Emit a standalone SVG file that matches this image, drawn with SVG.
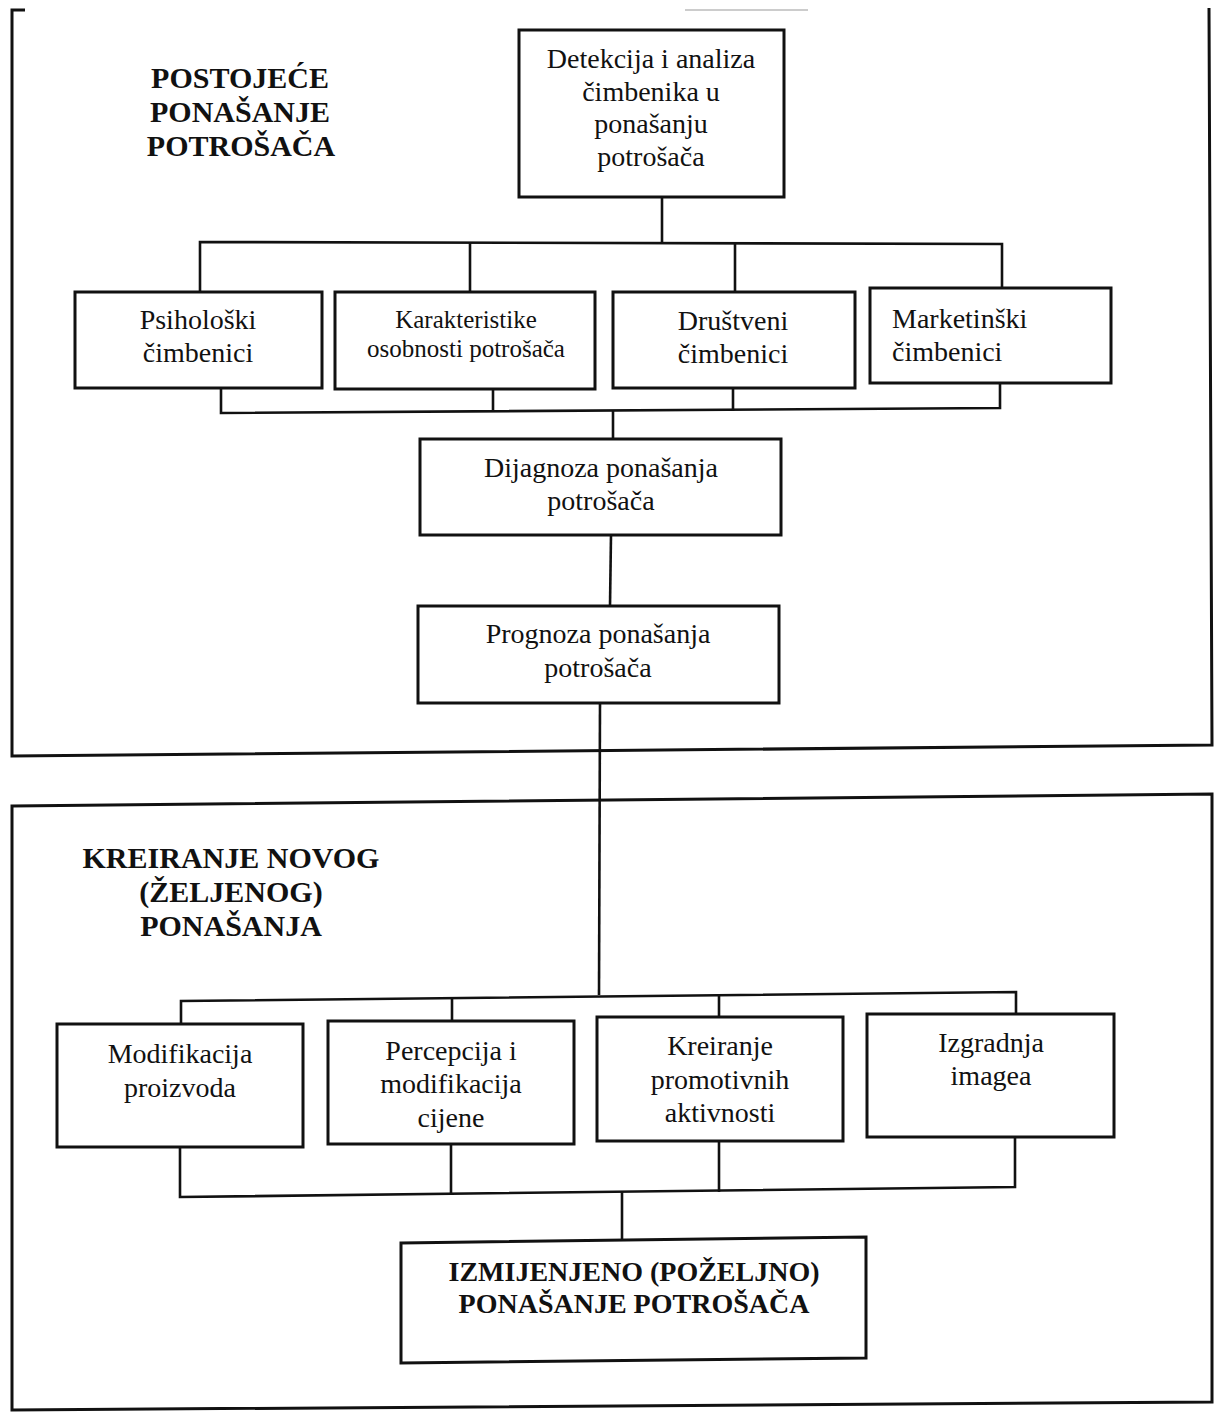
<svg xmlns="http://www.w3.org/2000/svg" width="1215" height="1412" viewBox="0 0 1215 1412">
<style>
  .box { fill: #ffffff; stroke: #111; stroke-width: 3; }
  .panel { fill: none; stroke: #111; stroke-width: 3; stroke-linejoin: miter; }
  .conn line, .conn path { stroke: #111; stroke-width: 2.6; fill: none; }
  text { font-family: "Liberation Serif", "Times New Roman", serif; fill: #111; text-anchor: middle; }
  text.left { text-anchor: start; }
  .lbl { font-size: 28px; }
  .small { font-size: 25px; }
  .title { font-size: 30px; font-weight: bold; }
  .final { font-size: 28px; font-weight: bold; }
</style>
<rect x="0" y="0" width="1215" height="1412" fill="#ffffff"/>

<g id="panels">
  <path class="panel" d="M25,10 L12,10 L12,756 L1212,745 L1209,8"/>
  <line x1="685" y1="10" x2="808" y2="10" stroke="#bbbbbb" stroke-width="1.5"/>
  <path class="panel" d="M12,806 L1212,794 L1212,1402 L12,1410 Z"/>
</g>

<g id="titles">
  <text class="title" x="240" y="88">POSTOJEĆE</text>
  <text class="title" x="240" y="122">PONAŠANJE</text>
  <text class="title" x="241" y="156">POTROŠAČA</text>
  <text class="title" x="231" y="868">KREIRANJE NOVOG</text>
  <text class="title" x="231" y="902">(ŽELJENOG)</text>
  <text class="title" x="231" y="936">PONAŠANJA</text>
</g>

<g id="connectors" class="conn">
  <line x1="662" y1="197" x2="662" y2="243"/>
  <path d="M200,292 L200,242 L1002,244 L1002,289"/>
  <line x1="470" y1="242" x2="470" y2="292"/>
  <line x1="735" y1="243" x2="735" y2="292"/>
  <path d="M221,388 L221,413 L1000,408 L1000,384"/>
  <line x1="493" y1="390" x2="493" y2="412"/>
  <line x1="733" y1="388" x2="733" y2="411"/>
  <line x1="613" y1="411" x2="613" y2="439"/>
  <line x1="611" y1="535" x2="610" y2="606"/>
  <line x1="600" y1="703" x2="599" y2="995"/>
  <path d="M181,1024 L181,1001 L1016,992 L1016,1014"/>
  <line x1="452" y1="998" x2="452" y2="1021"/>
  <line x1="719" y1="995" x2="719" y2="1017"/>
  <path d="M180,1147 L180,1197 L1015,1187 L1015,1137"/>
  <line x1="451" y1="1144" x2="451" y2="1195"/>
  <line x1="719" y1="1141" x2="719" y2="1192"/>
  <line x1="622" y1="1192" x2="622" y2="1240"/>
</g>

<g id="n_detekcija">
  <rect class="box" x="519" y="30" width="265" height="167"/>
  <text class="lbl" x="651" y="68">Detekcija i analiza</text>
  <text class="lbl" x="651" y="101">čimbenika u</text>
  <text class="lbl" x="651" y="133">ponašanju</text>
  <text class="lbl" x="651" y="166">potrošača</text>
</g>

<g id="n_psiholoski">
  <rect class="box" x="75" y="292" width="247" height="96"/>
  <text class="lbl" x="198" y="329">Psihološki</text>
  <text class="lbl" x="198" y="362">čimbenici</text>
</g>

<g id="n_karakteristike">
  <rect class="box" x="335" y="292" width="260" height="97"/>
  <text class="small" x="466" y="328">Karakteristike</text>
  <text class="small" x="466" y="357">osobnosti potrošača</text>
</g>

<g id="n_drustveni">
  <rect class="box" x="613" y="292" width="242" height="96"/>
  <text class="lbl" x="733" y="330">Društveni</text>
  <text class="lbl" x="733" y="363">čimbenici</text>
</g>

<g id="n_marketinski">
  <rect class="box" x="870" y="288" width="241" height="95"/>
  <text class="lbl left" x="892" y="328">Marketinški</text>
  <text class="lbl left" x="892" y="361">čimbenici</text>
</g>

<g id="n_dijagnoza">
  <rect class="box" x="420" y="439" width="361" height="96"/>
  <text class="lbl" x="601" y="477">Dijagnoza ponašanja</text>
  <text class="lbl" x="601" y="510">potrošača</text>
</g>

<g id="n_prognoza">
  <rect class="box" x="418" y="606" width="361" height="97"/>
  <text class="lbl" x="598" y="643">Prognoza ponašanja</text>
  <text class="lbl" x="598" y="677">potrošača</text>
</g>

<g id="n_modifikacija">
  <rect class="box" x="57" y="1024" width="246" height="123"/>
  <text class="lbl" x="180" y="1063">Modifikacija</text>
  <text class="lbl" x="180" y="1097">proizvoda</text>
</g>

<g id="n_percepcija">
  <rect class="box" x="328" y="1021" width="246" height="123"/>
  <text class="lbl" x="451" y="1060">Percepcija i</text>
  <text class="lbl" x="451" y="1093">modifikacija</text>
  <text class="lbl" x="451" y="1127">cijene</text>
</g>

<g id="n_kreiranje">
  <rect class="box" x="597" y="1017" width="246" height="124"/>
  <text class="lbl" x="720" y="1055">Kreiranje</text>
  <text class="lbl" x="720" y="1089">promotivnih</text>
  <text class="lbl" x="720" y="1122">aktivnosti</text>
</g>

<g id="n_izgradnja">
  <rect class="box" x="867" y="1014" width="247" height="123"/>
  <text class="lbl" x="991" y="1052">Izgradnja</text>
  <text class="lbl" x="991" y="1085">imagea</text>
</g>

<g id="n_izmijenjeno">
  <polygon class="box" points="401,1243 866,1237 866,1358 401,1363"/>
  <text class="final" x="634" y="1281">IZMIJENJENO (POŽELJNO)</text>
  <text class="final" x="634" y="1313">PONAŠANJE POTROŠAČA</text>
</g>
</svg>
